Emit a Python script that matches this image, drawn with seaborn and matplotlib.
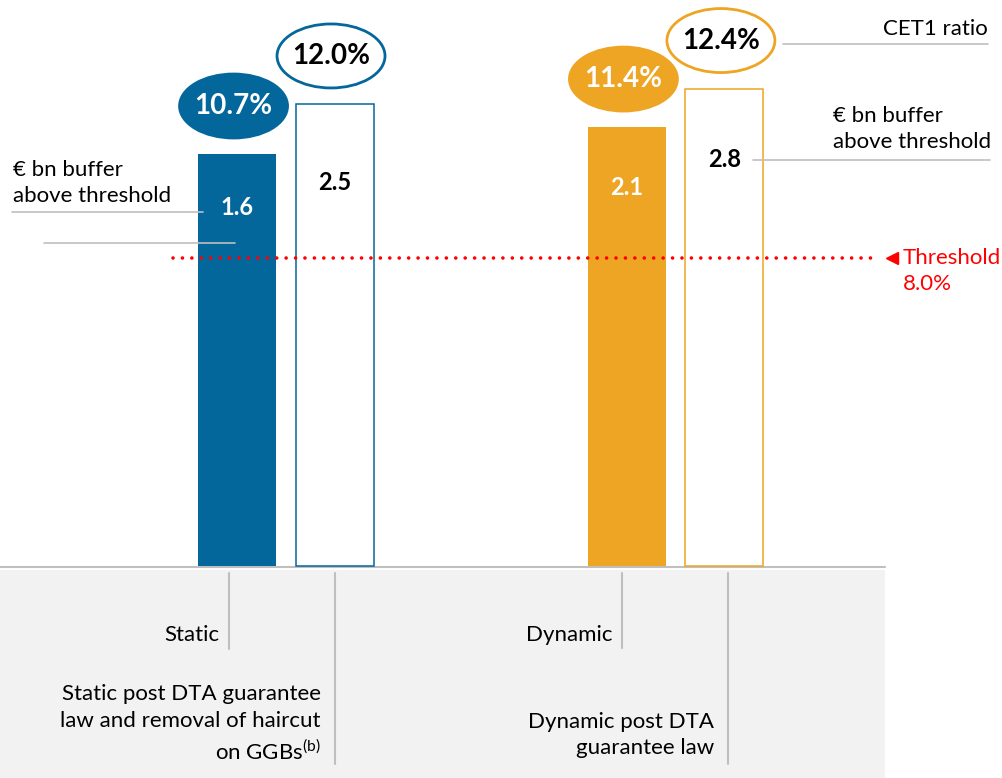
import matplotlib
matplotlib.use("Agg")
import matplotlib.pyplot as plt
import seaborn as sns
import pandas as pd
from matplotlib.patches import Ellipse
from matplotlib.transforms import ScaledTranslation, blended_transform_factory

# chart values
scenarios = ["Static", "Static", "Dynamic", "Dynamic"]
variants = ["base", "post DTA", "base", "post DTA"]
cet1_ratio = [10.7, 12.0, 11.4, 12.4]
buffer_bn = [1.6, 2.5, 2.1, 2.8]
threshold = 8.0
category_labels = [
    "Static",
    "Static post DTA guarantee\nlaw and removal of haircut\non GGBs$^{\\mathregular{(b)}}$",
    "Dynamic",
    "Dynamic post DTA\nguarantee law",
]

BLUE = "#03679b"
ORANGE = "#eea524"
RED = "#ff0000"
GREY = "#bfbfbf"
W, H = 1002, 778

sns.set_style("white")
plt.rcParams["font.family"] = ["Lato", "DejaVu Sans"]


def px(x, y):
    # pixel position of the reference -> axes fraction
    return x / W, 1 - y / H


df = pd.DataFrame({"scenario": scenarios, "variant": variants, "cet1": cet1_ratio})

fig = plt.figure(figsize=(W / 100, H / 100), dpi=100)
ax = fig.add_axes([0, 0, 1, 1])
sns.barplot(data=df, x="scenario", y="cet1", hue="variant", width=0.5, gap=0.2,
            saturation=1, legend=False, ax=ax, zorder=2)
ax.set_xlim(-0.733, 1.837)
ax.set_ylim(-5.506, 14.70)
ax.axis("off")

# bottom band + baseline
ax.axhspan(-6, -0.1, xmin=0, xmax=885 / W, color="#f2f2f2", zorder=0, lw=0)
ax.axhline(-0.02, xmin=0, xmax=885 / W, color=GREY, lw=1.5, zorder=1)

# style bars and put the labels on them
drop_px = [53, 79, 60, 71]
for p in ax.patches:
    h = p.get_height()
    if h not in cet1_ratio:
        continue
    i = cet1_ratio.index(h)
    col = BLUE if scenarios[i] == "Static" else ORANGE
    filled = variants[i] == "base"
    p.set_facecolor(col if filled else "white")
    p.set_edgecolor(col)
    p.set_linewidth(0 if filled else 1.1)
    cx = p.get_x() + p.get_width() / 2

    tr = fig.dpi_scale_trans + ScaledTranslation(cx, h, ax.transData)
    ax.add_patch(Ellipse((-0.035, 0.48), 1.08, 0.64, transform=tr,
                         facecolor=col if filled else "white", edgecolor=col,
                         lw=2, zorder=4, clip_on=False))
    ax.text(-0.035, 0.48, f"{h:.1f}%", transform=tr, ha="center", va="center",
            fontsize=20, fontweight="bold", color="white" if filled else "black",
            zorder=5)
    ax.annotate(f"{buffer_bn[i]:.1f}", xy=(cx, h), xytext=(0, -drop_px[i] * 0.72),
                textcoords="offset points", ha="center", va="center",
                fontsize=17, fontweight="bold",
                color="white" if filled else "black", zorder=5)

# threshold
ax.axhline(threshold, xmin=173 / W, xmax=877 / W, color=RED, lw=2.6,
           linestyle=(0, (0.01, 2.6)), dash_capstyle="round", zorder=3)
bt = blended_transform_factory(ax.transAxes, ax.transData)
ax.plot([892 / W], [threshold], marker="<", ms=9, color=RED, transform=bt,
        clip_on=False)
ax.text(903 / W, threshold, "Threshold", transform=bt, ha="left", va="center",
        fontsize=16, color=RED)
ax.annotate(f"{threshold:.1f}%", xy=(903 / W, threshold), xycoords=bt,
            xytext=(0, -19), textcoords="offset points", ha="left", va="center",
            fontsize=16, color=RED)

# side notes
note_kw = dict(transform=ax.transAxes, fontsize=16, color="black")
ax.text(*px(13, 183), "€ bn buffer\nabove threshold", ha="left", va="center",
        linespacing=1.32, **note_kw)
ax.text(*px(833, 129), "€ bn buffer\nabove threshold", ha="left", va="center",
        linespacing=1.32, **note_kw)
ax.text(*px(988, 29), "CET1 ratio", ha="right", va="center", **note_kw)
for x0, x1, y in [(12, 203, 212), (44, 235, 243), (783, 988, 44), (753, 990, 160)]:
    ax.plot([x0 / W, x1 / W], [1 - y / H] * 2, color=GREY, lw=1.2,
            transform=ax.transAxes, clip_on=False)

# category labels in the band
dividers = [(229, 649), (335, 764), (622, 648), (728, 764)]
label_y = [635, 724, 635, 735]
for lab, (dx, dy1), ly in zip(category_labels, dividers, label_y):
    ax.plot([dx / W] * 2, [1 - 573 / H, 1 - dy1 / H], color=GREY, lw=1.5,
            transform=ax.transAxes)
    right = dx - 10 if ly == 635 else dx - 14
    ax.text(*px(right, ly), lab, ha="right", va="center", linespacing=1.42,
            **note_kw)

fig.savefig("out.png", dpi=100)
